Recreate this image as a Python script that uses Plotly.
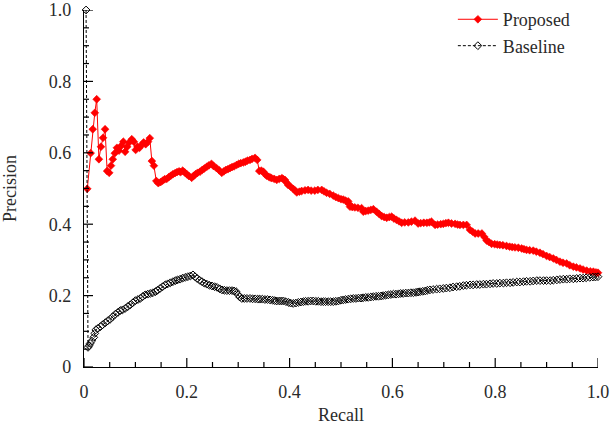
import plotly.graph_objects as go

# ---- data ----
prop_recall = [0.0064, 0.013, 0.017, 0.021, 0.0247, 0.029, 0.033, 0.037, 0.041, 0.045, 0.049, 0.0525, 0.056, 0.060,
               0.064, 0.068, 0.072, 0.0765, 0.080, 0.084, 0.088, 0.093, 0.097, 0.1005, 0.104, 0.108, 0.112, 0.116,
               0.120, 0.1245, 0.128, 0.132, 0.136, 0.1407, 0.1446, 0.149, 0.153, 0.157, 0.161, 0.165, 0.169, 0.173,
               0.177, 0.181, 0.185, 0.188, 0.192, 0.196, 0.200, 0.204, 0.2095, 0.213, 0.217, 0.221, 0.2257, 0.230,
               0.234, 0.239, 0.243, 0.248, 0.252, 0.258, 0.263, 0.268, 0.272, 0.276, 0.280, 0.284, 0.288, 0.292,
               0.297, 0.301, 0.305, 0.310, 0.314, 0.318, 0.323, 0.327, 0.3327, 0.337, 0.341, 0.345, 0.349, 0.352,
               0.355, 0.359, 0.362, 0.365, 0.370, 0.375, 0.380, 0.385, 0.388, 0.391, 0.394, 0.397, 0.402, 0.407,
               0.411, 0.414, 0.419, 0.4235, 0.430, 0.436, 0.442, 0.449, 0.455, 0.4625, 0.467, 0.472, 0.478, 0.485,
               0.490, 0.495, 0.500, 0.5045, 0.509, 0.514, 0.516, 0.5175, 0.522, 0.527, 0.533, 0.540, 0.5434, 0.548,
               0.553, 0.558, 0.563, 0.569, 0.574, 0.579, 0.584, 0.589, 0.594, 0.5986, 0.603, 0.608, 0.613, 0.618,
               0.624, 0.631, 0.637, 0.644, 0.650, 0.655, 0.661, 0.667, 0.672, 0.676, 0.683, 0.688, 0.694, 0.699,
               0.704, 0.709, 0.715, 0.722, 0.727, 0.7315, 0.738, 0.7445, 0.751, 0.756, 0.761, 0.767, 0.774, 0.779,
               0.7834, 0.788, 0.793, 0.799, 0.804, 0.809, 0.815, 0.822, 0.828, 0.833, 0.8385, 0.845, 0.8516, 0.856,
               0.861, 0.867, 0.874, 0.880, 0.887, 0.893, 0.900, 0.906, 0.913, 0.919, 0.926, 0.932, 0.939, 0.945,
               0.952, 0.958, 0.965, 0.971, 0.978, 0.985, 0.991, 0.996, 1.0]
prop_precision = [0.499, 0.599, 0.666, 0.712, 0.750, 0.582, 0.617, 0.642, 0.666, 0.549, 0.544, 0.564, 0.582, 0.599,
                  0.614, 0.606, 0.619, 0.631, 0.603, 0.617, 0.629, 0.638, 0.631, 0.608, 0.617, 0.614, 0.622, 0.629,
                  0.624, 0.631, 0.641, 0.577, 0.564, 0.521, 0.515, 0.518, 0.522, 0.526, 0.527, 0.532, 0.536, 0.540,
                  0.543, 0.546, 0.548, 0.546, 0.550, 0.545, 0.540, 0.535, 0.530, 0.535, 0.540, 0.544, 0.547, 0.552,
                  0.556, 0.561, 0.565, 0.569, 0.563, 0.557, 0.551, 0.544, 0.548, 0.552, 0.554, 0.557, 0.560, 0.562,
                  0.566, 0.569, 0.571, 0.573, 0.575, 0.578, 0.580, 0.583, 0.586, 0.580, 0.549, 0.550, 0.547, 0.541,
                  0.536, 0.533, 0.531, 0.529, 0.527, 0.524, 0.527, 0.529, 0.526, 0.524, 0.517, 0.510, 0.505, 0.499,
                  0.494, 0.489, 0.491, 0.493, 0.495, 0.496, 0.494, 0.494, 0.496, 0.496, 0.492, 0.488, 0.485, 0.480,
                  0.476, 0.473, 0.470, 0.469, 0.466, 0.464, 0.456, 0.449, 0.448, 0.447, 0.446, 0.445, 0.435, 0.437,
                  0.438, 0.440, 0.442, 0.435, 0.429, 0.423, 0.420, 0.418, 0.420, 0.421, 0.416, 0.412, 0.408, 0.404,
                  0.405, 0.405, 0.407, 0.410, 0.402, 0.403, 0.404, 0.404, 0.405, 0.407, 0.398, 0.399, 0.400, 0.401,
                  0.403, 0.404, 0.402, 0.401, 0.399, 0.398, 0.398, 0.398, 0.384, 0.379, 0.374, 0.374, 0.374, 0.364,
                  0.354, 0.350, 0.345, 0.344, 0.343, 0.342, 0.341, 0.339, 0.337, 0.336, 0.335, 0.334, 0.332, 0.330,
                  0.328, 0.327, 0.326, 0.323, 0.320, 0.316, 0.311, 0.308, 0.304, 0.300, 0.295, 0.292, 0.290, 0.285,
                  0.281, 0.279, 0.276, 0.273, 0.270, 0.268, 0.267, 0.265, 0.264]

base_recall = [0.004, 0.0078, 0.010, 0.012, 0.015, 0.019, 0.021, 0.023, 0.027, 0.032, 0.036, 0.0415, 0.046, 0.051,
               0.056, 0.061, 0.066, 0.0706, 0.075, 0.080, 0.085, 0.090, 0.095, 0.100, 0.105, 0.1095, 0.114, 0.119,
               0.124, 0.129, 0.134, 0.139, 0.143, 0.148, 0.153, 0.158, 0.163, 0.168, 0.173, 0.178, 0.182, 0.187,
               0.192, 0.197, 0.202, 0.207, 0.212, 0.216, 0.220, 0.225, 0.2296, 0.234, 0.239, 0.244, 0.249, 0.254,
               0.259, 0.264, 0.2685, 0.273, 0.278, 0.283, 0.288, 0.292, 0.296, 0.300, 0.303, 0.307, 0.312, 0.317,
               0.323, 0.328, 0.333, 0.338, 0.342, 0.347, 0.352, 0.357, 0.362, 0.367, 0.371, 0.375, 0.380, 0.384,
               0.388, 0.393, 0.398, 0.402, 0.407, 0.412, 0.417, 0.422, 0.4267, 0.431, 0.436, 0.441, 0.446, 0.451,
               0.456, 0.461, 0.4656, 0.470, 0.475, 0.480, 0.485, 0.490, 0.495, 0.500, 0.5045, 0.509, 0.514, 0.519,
               0.524, 0.529, 0.534, 0.539, 0.543, 0.548, 0.553, 0.558, 0.563, 0.568, 0.573, 0.578, 0.582, 0.587,
               0.592, 0.597, 0.602, 0.607, 0.612, 0.616, 0.621, 0.626, 0.631, 0.636, 0.641, 0.646, 0.650, 0.654,
               0.659, 0.664, 0.668, 0.673, 0.679, 0.686, 0.692, 0.699, 0.705, 0.712, 0.718, 0.725, 0.731, 0.738,
               0.744, 0.751, 0.757, 0.764, 0.770, 0.777, 0.783, 0.790, 0.796, 0.803, 0.809, 0.816, 0.822, 0.829,
               0.835, 0.842, 0.848, 0.855, 0.861, 0.868, 0.874, 0.881, 0.887, 0.894, 0.900, 0.907, 0.913, 0.920,
               0.926, 0.9325, 0.939, 0.945, 0.952, 0.9585, 0.965, 0.971, 0.977, 0.984, 0.990, 0.995, 1.000]
base_precision = [1.000, 0.055, 0.060, 0.066, 0.073, 0.083, 0.094, 0.104, 0.108, 0.113, 0.118, 0.124, 0.129, 0.134,
                  0.141, 0.148, 0.153, 0.158, 0.160, 0.164, 0.169, 0.174, 0.180, 0.186, 0.189, 0.192, 0.197, 0.202,
                  0.204, 0.206, 0.208, 0.211, 0.215, 0.220, 0.225, 0.230, 0.233, 0.236, 0.239, 0.242, 0.244, 0.246,
                  0.249, 0.251, 0.253, 0.255, 0.258, 0.253, 0.248, 0.243, 0.239, 0.235, 0.232, 0.229, 0.227, 0.225,
                  0.223, 0.219, 0.216, 0.215, 0.214, 0.214, 0.214, 0.213, 0.211, 0.202, 0.196, 0.192, 0.192, 0.192,
                  0.192, 0.191, 0.191, 0.190, 0.190, 0.190, 0.189, 0.189, 0.188, 0.187, 0.186, 0.185, 0.185, 0.185,
                  0.185, 0.183, 0.181, 0.179, 0.178, 0.179, 0.181, 0.182, 0.183, 0.184, 0.184, 0.185, 0.185, 0.184,
                  0.184, 0.183, 0.183, 0.183, 0.183, 0.183, 0.183, 0.184, 0.185, 0.187, 0.188, 0.189, 0.190, 0.191,
                  0.192, 0.192, 0.193, 0.193, 0.194, 0.195, 0.195, 0.196, 0.197, 0.198, 0.198, 0.199, 0.200, 0.201,
                  0.202, 0.203, 0.204, 0.204, 0.205, 0.206, 0.206, 0.207, 0.207, 0.208, 0.208, 0.209, 0.210, 0.211,
                  0.212, 0.213, 0.215, 0.216, 0.217, 0.218, 0.219, 0.220, 0.221, 0.222, 0.224, 0.225, 0.226, 0.228,
                  0.229, 0.230, 0.230, 0.231, 0.231, 0.232, 0.232, 0.233, 0.234, 0.234, 0.235, 0.235, 0.236, 0.236,
                  0.237, 0.238, 0.238, 0.239, 0.240, 0.240, 0.241, 0.242, 0.242, 0.242, 0.242, 0.242, 0.243, 0.244,
                  0.245, 0.246, 0.246, 0.247, 0.247, 0.248, 0.249, 0.249, 0.250, 0.251, 0.252, 0.252, 0.253]

tick_vals = [0, 0.2, 0.4, 0.6, 0.8, 1.0]
tick_text = ["0", "0.2", "0.4", "0.6", "0.8", "1.0"]
minor_vals = [0.05, 0.1, 0.15, 0.25, 0.3, 0.35, 0.45, 0.5, 0.55, 0.65, 0.7, 0.75, 0.85, 0.9, 0.95]

FONT = "Liberation Serif"
TXT = "#2a2a2a"
FS = 18
MAJOR_LEN, MINOR_LEN = 9, 5

fig = go.Figure()
fig.add_trace(go.Scatter(
    x=prop_recall, y=prop_precision, name="Proposed", mode="lines+markers",
    line=dict(color="#ff0000", width=1),
    marker=dict(symbol="diamond", size=6, color="#ff0000", line=dict(width=0.6, color="#ff0000")),
    cliponaxis=False,
))
fig.add_trace(go.Scatter(
    x=base_recall, y=base_precision, name="Baseline", mode="lines+markers",
    line=dict(color="black", width=1, dash="3px,2px"),
    marker=dict(symbol="diamond-open", size=6, color="black", line=dict(width=1, color="black")),
    cliponaxis=False,
))

# inward tick marks, placed at the axis tick values, length given in pixels
tick_line = dict(color="black", width=1.2)
for vals, length in ((tick_vals, MAJOR_LEN), (minor_vals, MINOR_LEN)):
    for v in vals:
        # bottom axis: vertical tick at x=v, rising from y=0
        fig.add_shape(type="line", xref="x", yref="y", x0=v, x1=v,
                      ysizemode="pixel", yanchor=0, y0=0, y1=length, line=tick_line, layer="above")
        # left axis: horizontal tick at y=v, from x=0 rightwards
        fig.add_shape(type="line", xref="x", yref="y", y0=v, y1=v,
                      xsizemode="pixel", xanchor=0, x0=0, x1=length, line=tick_line, layer="above")

axis_style = dict(range=[0, 1], tickmode="array", tickvals=tick_vals, ticktext=tick_text,
                  showline=True, linecolor="black", linewidth=1.3, ticks="", showgrid=False,
                  zeroline=False, tickfont=dict(family=FONT, size=FS, color=TXT))

fig.update_layout(
    width=611, height=425,
    margin=dict(l=84, r=13, t=10, b=58, autoexpand=False),
    paper_bgcolor="white", plot_bgcolor="white",
    font=dict(family=FONT, size=FS, color=TXT),
    legend=dict(x=0.955, y=1.025, xanchor="right", yanchor="top", bgcolor="rgba(0,0,0,0)",
                font=dict(family=FONT, size=FS, color=TXT), tracegroupgap=0, itemwidth=40),
    showlegend=True,
    xaxis=dict(**axis_style, ticklabelstandoff=8,
               title=dict(text="Recall", font=dict(family=FONT, size=FS, color=TXT), standoff=12)),
    yaxis=dict(**axis_style, ticklabelstandoff=8,
               title=dict(text="Precision", font=dict(family=FONT, size=FS, color=TXT), standoff=28)),
)

fig.write_html("out.html")
